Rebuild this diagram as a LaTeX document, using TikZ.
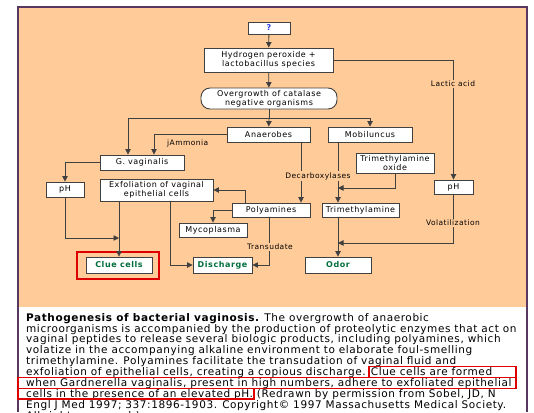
\documentclass[tikz,border=0pt]{standalone}
\usepackage{fontspec}
\usetikzlibrary{arrows.meta}
\setmainfont{DejaVu Sans}
\newfontfamily\boxfont{DejaVu Sans}[LetterSpace=7]
\newfontfamily\lblfont{DejaVu Sans}[LetterSpace=6]
\newfontfamily\capfont{DejaVu Sans}[LetterSpace=5.5]

\definecolor{peach}{RGB}{255,204,153}
\definecolor{framec}{RGB}{88,56,96}
\definecolor{cluegreen}{RGB}{0,110,60}
\definecolor{hired}{RGB}{222,0,0}
\definecolor{qblue}{RGB}{40,60,235}

\tikzstyle{box}=[draw=black!75, fill=white, line width=.9pt, inner sep=0pt, align=center, font=\boxfont\fontsize{8}{9}\selectfont]
\tikzstyle{goal}=[box, text=cluegreen, font=\boxfont\bfseries\fontsize{8}{9}\selectfont]
\tikzstyle{lbl}=[fill=peach, inner sep=1pt, font=\lblfont\fontsize{7.5}{8.5}\selectfont]
\tikzstyle{link}=[black!75, line width=.8pt]
\tikzstyle{mark red}=[draw=hired, line width=1.7pt]

\begin{document}
\begin{tikzpicture}[>={Triangle[length=5.5pt,width=5.5pt]},x=1pt,y=-1pt]
    \useasboundingbox (0,0) rectangle (534,412);

    % Panel
    \fill[peach] (18,7) rectangle (527,307);
    \draw[framec, line width=2pt] (18,412) -- (18,7) -- (527,7) -- (527,412);

    % Boxes
    \draw (269,28) node[box, minimum width=42pt, minimum height=12pt] (q) {\color{qblue}\bfseries ?};
    \draw (268.5,60) node[box, minimum width=129pt, minimum height=24pt] (hp) {Hydrogen peroxide +\\lactobacillus species};
    \draw (269,98.5) node[box, rounded corners=9pt, minimum width=136pt, minimum height=21pt] (og) {Overgrowth of catalase\\negative organisms};
    \draw (268.5,134.5) node[box, minimum width=83pt, minimum height=15pt] (an) {Anaerobes};
    \draw (370,134.5) node[box, minimum width=84pt, minimum height=15pt] (mo) {Mobiluncus};
    \draw (142,162.5) node[box, minimum width=84pt, minimum height=15pt] (gv) {G. vaginalis};
    \draw (65,189.5) node[box, minimum width=38pt, minimum height=15pt] (phl) {pH};
    \draw (156.5,190) node[box, minimum width=113pt, minimum height=22pt] (ex) {Exfoliation of vaginal\\epithelial cells};
    \draw (395,163) node[box, minimum width=78pt, minimum height=20pt] (tmo) {Trimethylamine\\oxide};
    \draw (453.5,187) node[box, minimum width=39pt, minimum height=14pt] (phr) {pH};
    \draw (271,210) node[box, minimum width=78pt, minimum height=14pt] (pa) {Polyamines};
    \draw (360.5,210) node[box, minimum width=77pt, minimum height=14pt] (tm) {Trimethylamine};
    \draw (213,230) node[box, minimum width=68pt, minimum height=14pt] (my) {Mycoplasma};
    \draw (119,265) node[goal, minimum width=66pt, minimum height=16pt] (cc) {Clue cells};
    \draw (222.5,265) node[goal, minimum width=59pt, minimum height=16pt] (di) {Discharge};
    \draw (338,265) node[goal, minimum width=66pt, minimum height=16pt] (od) {Odor};
    \draw[mark red] (77,252) rectangle (159,279);

    % Joints
    \coordinate (split) at (269,118);
    \coordinate (sl) at (128,118);
    \coordinate (sr) at (370,118);
    \coordinate (amd) at ([xshift=12pt]gv.north);
    \coordinate (jn) at (119,238);
    \coordinate (exd) at ([xshift=13.5pt]ex.south);
    \coordinate (pau) at ([xshift=-26pt]pa.north);
    \coordinate (pad) at ([xshift=-2pt]pa.south);
    \coordinate (and) at ([xshift=32.5pt]an.south);
    \coordinate (mod) at ([xshift=-32pt]mo.south);
    \coordinate (tj) at (338,188);
    \coordinate (vj) at (338,243);

    % Connectors
    \draw[link,->] (q) -- (hp);
    \draw[link,->] (hp) -- (og);
    \draw[link,->] (hp.east) -| (phr.north);
    \draw[link] (og) -- (split);
    \draw[link] (sl) -- (sr);
    \draw[link,->] (sl) -- (sl |- gv.north);
    \draw[link,->] (split) -- (an);
    \draw[link,->] (sr) -- (mo);
    \draw[link,->] (an.west) -| (amd);
    \draw[link,->] (gv.west) -| (phl.north);
    \draw[link,->] (phl.south) |- (jn);
    \draw[link,->] (ex.south -| cc.north) -- (cc.north);
    \draw[link,->] (exd) |- (di.west);
    \draw[link,->] (pau) |- (ex.east);
    \draw[link,->] (pa.west) -| (my.north);
    \draw[link,->] (pad) |- (di.east);
    \draw[link,->] (and) -- (and |- pa.north);
    \draw[link,->] (mod) -- (mod |- tm.north);
    \draw[link,->] (tmo.south) |- (tj);
    \draw[link,->] (tm.south -| od.north) -- (od.north);
    \draw[link,->] (phr.south) |- (vj);

    % Labels
    \draw (453,84) node[lbl] (lac) {Lactic acid};
    \draw (166,143) node[lbl, anchor=west, fill=none] (amm) {jAmmonia};
    \draw (318,176) node[lbl] (dec) {Decarboxylases};
    \draw (270,247) node[lbl] (tra) {Transudate};
    \draw (453,223) node[lbl] (vol) {Volatilization};

    % Caption
    \draw (26,313) node[anchor=north west, align=left, inner sep=0pt, font=\capfont\fontsize{10.5}{10.9}\selectfont] (cap) {%
      {\bfseries Pathogenesis of bacterial vaginosis.} The overgrowth of anaerobic\\
      microorganisms is accompanied by the production of proteolytic enzymes that act on\\
      vaginal peptides to release several biologic products, including polyamines, which\\
      volatize in the accompanying alkaline environment to elaborate foul-smelling\\
      trimethylamine. Polyamines facilitate the transudation of vaginal fluid and\\
      exfoliation of epithelial cells, creating a copious discharge. Clue cells are formed\\
      when Gardnerella vaginalis, present in high numbers, adhere to exfoliated epithelial\\
      cells in the presence of an elevated pH. (Redrawn by permission from Sobel, JD, N\\
      Engl J Med 1997; 337:1896-1903. Copyright\textcopyright{} 1997 Massachusetts Medical Society.\\
      All rights reserved.)};
    \draw[mark red] (369,366.5) rectangle (516,377.5);
    \draw[mark red] (18,377.5) rectangle (516,388.5);
    \draw[mark red] (18,388.5) rectangle (254,399);

\end{tikzpicture}
\end{document}
